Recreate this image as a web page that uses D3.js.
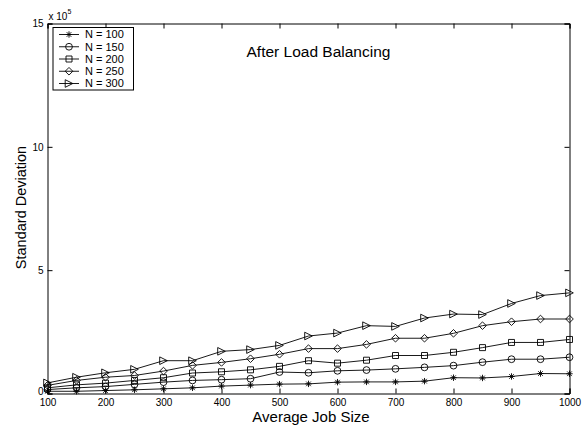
<!DOCTYPE html>
<html>
<head>
<meta charset="utf-8">
<script src="https://cdn.jsdelivr.net/npm/d3@7"></script>
<style>
  body { margin: 0; background: #fff; }
  text { font-family: "Liberation Sans", Arial, Helvetica, sans-serif; fill: #000; }
</style>
</head>
<body>
<div id="chart"></div>
<script>
// Job sizes on the x axis
const jobSizes = [100, 150, 200, 250, 300, 350, 400, 450, 500, 550, 600, 650, 700, 750, 800, 850, 900, 950, 1000];

// Standard deviation, in units of 10^5
const n100 = [0.09, 0.09, 0.12, 0.15, 0.19, 0.23, 0.30, 0.34, 0.38, 0.39, 0.46, 0.47, 0.47, 0.50, 0.64, 0.63, 0.69, 0.81, 0.80];
const n150 = [0.16, 0.23, 0.28, 0.37, 0.46, 0.53, 0.56, 0.60, 0.87, 0.84, 0.92, 0.95, 1.00, 1.06, 1.13, 1.27, 1.39, 1.39, 1.47];
const n200 = [0.23, 0.35, 0.42, 0.53, 0.64, 0.83, 0.88, 0.96, 1.10, 1.33, 1.23, 1.35, 1.54, 1.54, 1.67, 1.86, 2.07, 2.07, 2.19];
const n250 = [0.33, 0.53, 0.66, 0.73, 0.91, 1.14, 1.26, 1.41, 1.59, 1.82, 1.82, 1.99, 2.24, 2.24, 2.44, 2.75, 2.91, 3.02, 3.02];
const n300 = [0.43, 0.66, 0.84, 0.98, 1.33, 1.33, 1.71, 1.78, 1.95, 2.33, 2.45, 2.75, 2.72, 3.06, 3.22, 3.20, 3.65, 3.97, 4.08];

const seriesNames = ["N = 100", "N = 150", "N = 200", "N = 250", "N = 300"];
const markerTypes = ["star", "circle", "square", "diamond", "triangle"];

const xTicks = [100, 200, 300, 400, 500, 600, 700, 800, 900, 1000];
const yTicks = [0, 5, 10, 15];

const series = [n100, n150, n200, n250, n300].map((vals, i) => ({
    name: seriesNames[i],
    marker: markerTypes[i],
    values: vals.map((v, j) => ({ x: jobSizes[j], y: v }))
}));

const W = 584, H = 429;
const margin = { top: 23.5, right: 14.5, bottom: 35.5, left: 47.5 };
const width = W - margin.left - margin.right;
const height = H - margin.top - margin.bottom;

const svg = d3.select("#chart").append("svg")
    .attr("width", W)
    .attr("height", H);

const g = svg.append("g")
    .attr("transform", `translate(${margin.left},${margin.top})`);

const x = d3.scaleLinear().domain([100, 1000]).range([0, width]);
const y = d3.scaleLinear().domain([0, 15]).range([height, 0]);

// Marker paths, MATLAB style, unfilled
const markerPath = (type) => {
    switch (type) {
        case "star": {
            const r = 3.2, d = r * 0.72;
            return `M${-r},0L${r},0M0,${-r}L0,${r}M${-d},${-d}L${d},${d}M${-d},${d}L${d},${-d}`;
        }
        case "circle": {
            const r = 3.4;
            return `M${r},0A${r},${r} 0 1,1 ${-r},0A${r},${r} 0 1,1 ${r},0Z`;
        }
        case "square": {
            const s = 3;
            return `M${-s},${-s}L${s},${-s}L${s},${s}L${-s},${s}Z`;
        }
        case "diamond": {
            const s = 3.8;
            return `M0,${-s}L${s},0L0,${s}L${-s},0Z`;
        }
        case "triangle": {
            const s = 3.8;
            return `M${s},0L${-s},${-s}L${-s},${s}Z`;
        }
    }
};

// Axes (inward ticks, box)
const xAxis = d3.axisBottom(x).tickValues(xTicks).tickSize(-5).tickPadding(5.5).tickFormat(d3.format("d"));
const yAxis = d3.axisLeft(y).tickValues(yTicks).tickSize(-5).tickPadding(4).tickFormat(d3.format("d"));

g.append("g")
    .attr("transform", `translate(0,${height})`)
    .call(xAxis);
const gy = g.append("g").call(yAxis);

// the "0" sits a touch higher so it clears the "100" below it
gy.selectAll(".tick text").filter(d => d === 0).attr("dy", "0.1em");

g.append("g").call(d3.axisTop(x).tickValues(xTicks).tickSize(-5).tickFormat(""));
g.append("g").attr("transform", `translate(${width},0)`)
    .call(d3.axisRight(y).tickValues(yTicks).tickSize(-5).tickFormat(""));

g.selectAll(".domain").attr("stroke", "#000").attr("stroke-width", 1);
g.selectAll(".tick line").attr("stroke", "#000");
g.selectAll(".tick text")
    .style("font-family", '"Liberation Sans", Arial, sans-serif')
    .style("font-size", "10px")
    .attr("fill", "#000");

// Exponent label
const expo = g.append("text")
    .attr("x", 1)
    .attr("y", -3.5)
    .style("font-size", "10px");
expo.append("tspan").text("x 10");
expo.append("tspan").attr("dy", -6).style("font-size", "7px").text("5");

// Lines
const line = d3.line().x(d => x(d.x)).y(d => y(d.y));

const sg = g.selectAll(".series")
    .data(series)
    .enter()
    .append("g")
    .attr("class", "series");

sg.append("path")
    .attr("d", d => line(d.values))
    .attr("fill", "none")
    .attr("stroke", "#000")
    .attr("stroke-width", 0.9);

sg.each(function (s) {
    d3.select(this).selectAll(".mk")
        .data(s.values)
        .enter()
        .append("path")
        .attr("class", "mk")
        .attr("transform", d => `translate(${x(d.x)},${y(d.y)})`)
        .attr("d", markerPath(s.marker))
        .attr("fill", "none")
        .attr("stroke", "#000")
        .attr("stroke-width", 0.9);
});

// Title
g.append("text")
    .attr("x", 199)
    .attr("y", 33.5)
    .style("font-size", "15.5px")
    .text("After Load Balancing");

// Axis labels
svg.append("text")
    .attr("x", margin.left + width / 2 + 2.5)
    .attr("y", 422)
    .attr("text-anchor", "middle")
    .style("font-size", "15px")
    .text("Average Job Size");

svg.append("text")
    .attr("transform", `translate(26,207.5) rotate(-90)`)
    .attr("text-anchor", "middle")
    .style("font-size", "14.5px")
    .text("Standard Deviation");

// Legend
const legend = g.append("g").attr("transform", "translate(5.5,4)");
legend.append("rect")
    .attr("width", 80.5)
    .attr("height", 62.5)
    .attr("fill", "#fff")
    .attr("stroke", "#000")
    .attr("stroke-width", 1);

const rows = legend.selectAll(".row")
    .data(series)
    .enter()
    .append("g")
    .attr("class", "row")
    .attr("transform", (d, i) => `translate(0,${7 + i * 12.25})`);

rows.append("line")
    .attr("x1", 6).attr("x2", 26)
    .attr("stroke", "#000").attr("stroke-width", 0.9);
rows.append("path")
    .attr("transform", "translate(16,0)")
    .attr("d", d => markerPath(d.marker))
    .attr("fill", "none")
    .attr("stroke", "#000")
    .attr("stroke-width", 0.9);
rows.append("text")
    .attr("x", 32)
    .attr("dy", "0.35em")
    .style("font-size", "11px")
    .text(d => d.name);
</script>
</body>
</html>
